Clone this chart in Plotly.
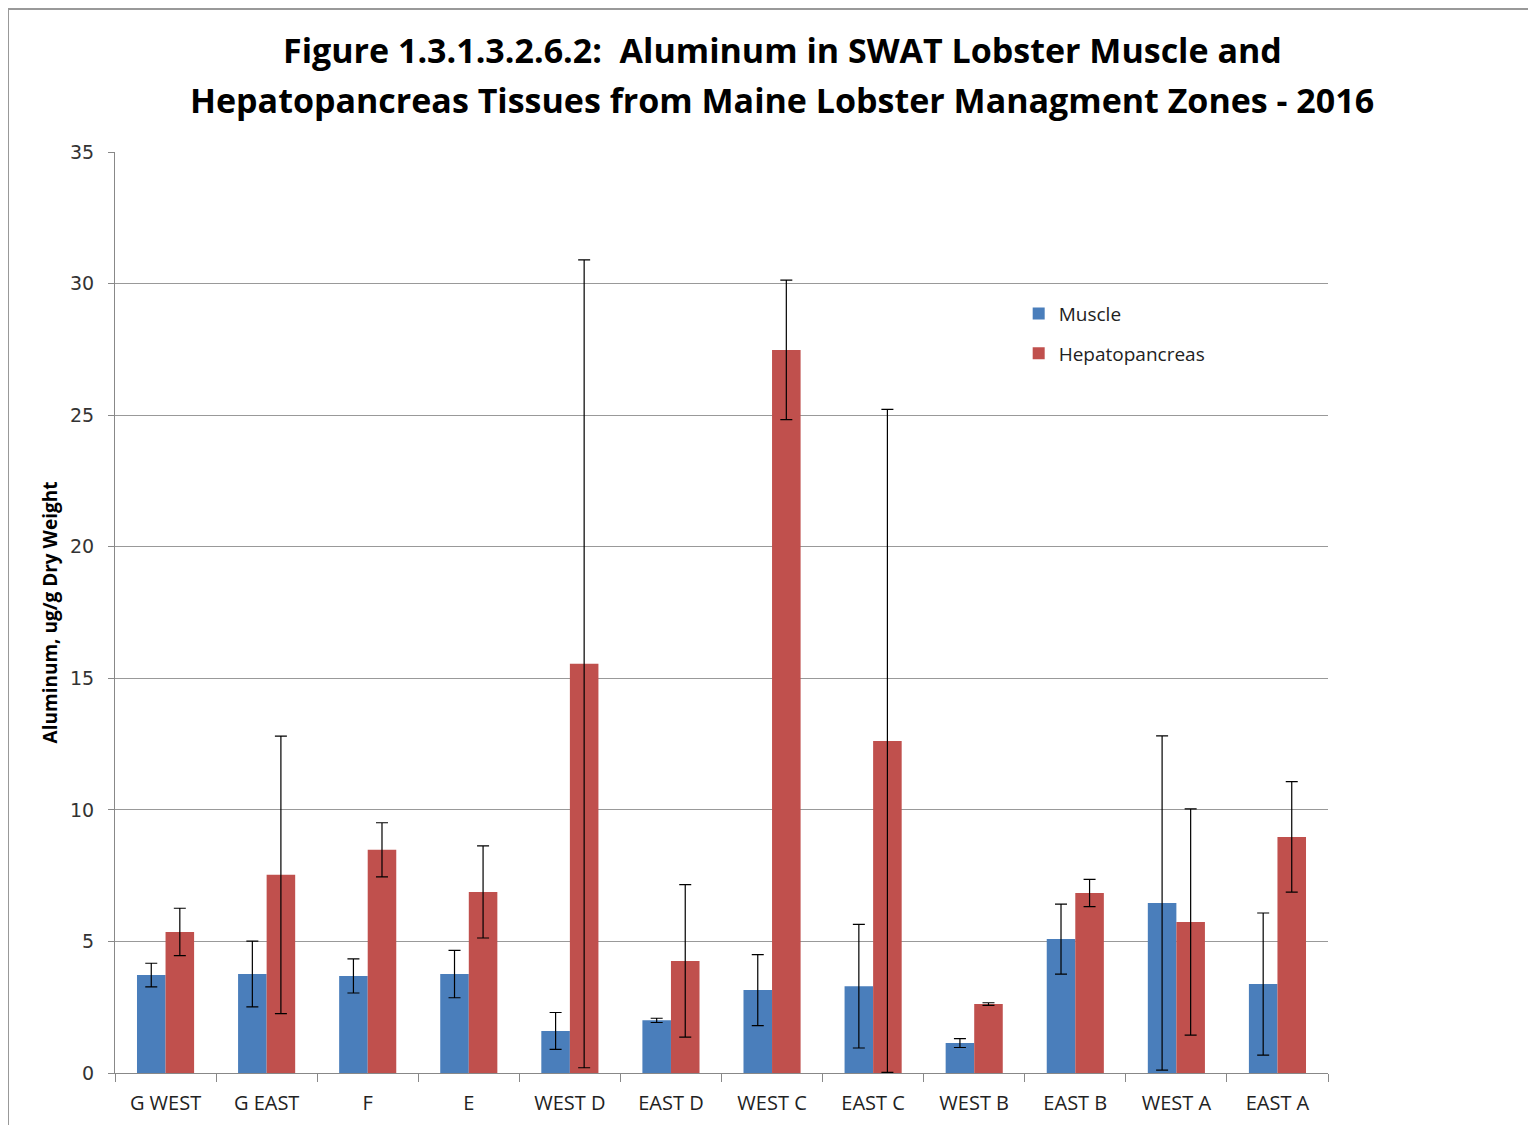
import plotly.graph_objects as go

zones = ["G WEST", "G EAST", "F", "E", "WEST D", "EAST D", "WEST C", "EAST C",
         "WEST B", "EAST B", "WEST A", "EAST A"]
muscle = [3.72, 3.76, 3.69, 3.76, 1.60, 2.00, 3.15, 3.30, 1.14, 5.09, 6.46, 3.38]
muscle_err = [0.45, 1.25, 0.65, 0.90, 0.70, 0.08, 1.35, 2.35, 0.17, 1.33, 6.35, 2.70]
hepato = [5.36, 7.53, 8.48, 6.88, 15.55, 4.26, 27.48, 12.62, 2.62, 6.84, 5.74, 8.97]
hepato_err = [0.90, 5.27, 1.03, 1.75, 15.35, 2.90, 2.65, 12.60, 0.05, 0.52, 4.30, 2.10]
y_ticks = [0, 5, 10, 15, 20, 25, 30, 35]

title_lines = ["Figure 1.3.1.3.2.6.2:  Aluminum in SWAT Lobster Muscle and",
               "Hepatopancreas Tissues from Maine Lobster Managment Zones - 2016"]

err_style = dict(type="data", visible=True, color="black", thickness=1.2, width=6)

fig = go.Figure()
fig.add_trace(go.Bar(
    name="Muscle", x=zones, y=muscle, legendgroup="m",
    marker=dict(color="#4a7ebb", line=dict(width=0)),
    error_y=dict(array=muscle_err, **err_style),
))
fig.add_trace(go.Bar(
    name="Hepatopancreas", x=zones, y=hepato, legendgroup="h",
    marker=dict(color="#c0504d", line=dict(width=0)),
    error_y=dict(array=hepato_err, **err_style),
))

annotations = []
for text, ypos in zip(title_lines, [1.1107, 1.0565]):
    annotations.append(dict(text="<b>" + text + "</b>", xref="paper", yref="paper",
                            x=0.5499, y=ypos, xanchor="center", yanchor="middle",
                            showarrow=False, font=dict(size=34, color="black")))

fig.update_layout(
    width=1536, height=1125,
    margin=dict(l=107, r=216, t=144, b=60),
    paper_bgcolor="white", plot_bgcolor="white",
    barmode="group", bargap=0.435, bargroupgap=0,
    font=dict(family="Open Sans, Liberation Sans, sans-serif", color="#222"),
    annotations=annotations,
    showlegend=True,
    legend=dict(x=0.745, y=0.845, xanchor="left", yanchor="top",
                bgcolor="rgba(0,0,0,0)", font=dict(size=19, color="#222"),
                tracegroupgap=12, itemwidth=30),
    xaxis=dict(
        showline=True, linecolor="#888", linewidth=1,
        ticks="outside", ticklen=8, tickcolor="#888", tickson="boundaries",
        tickfont=dict(size=20, color="#222"), showgrid=False,
        ticklabelstandoff=12,
    ),
    yaxis=dict(
        range=[0, 35], tickvals=y_ticks, showline=True, linecolor="#888", linewidth=1,
        ticks="outside", ticklen=6, tickcolor="#888",
        showgrid=True, gridcolor="#999", gridwidth=1,
        tickfont=dict(size=19, color="#333", family="DejaVu Sans, Verdana, sans-serif"),
        ticklabelstandoff=10, zeroline=False,
        title=dict(text="<b>Aluminum, ug/g Dry Weight</b>", standoff=7,
                   font=dict(size=19, color="black")),
    ),
    shapes=[
        dict(type="line", xref="paper", yref="paper", x0=-0.0882, x1=-0.0882,
             y0=-0.1, y1=1.1553, line=dict(color="#999", width=2)),
        dict(type="line", xref="paper", yref="paper", x0=-0.0882, x1=1.2,
             y0=1.1553, y1=1.1553, line=dict(color="#999", width=2)),
    ],
)

fig.write_html("out.html")
